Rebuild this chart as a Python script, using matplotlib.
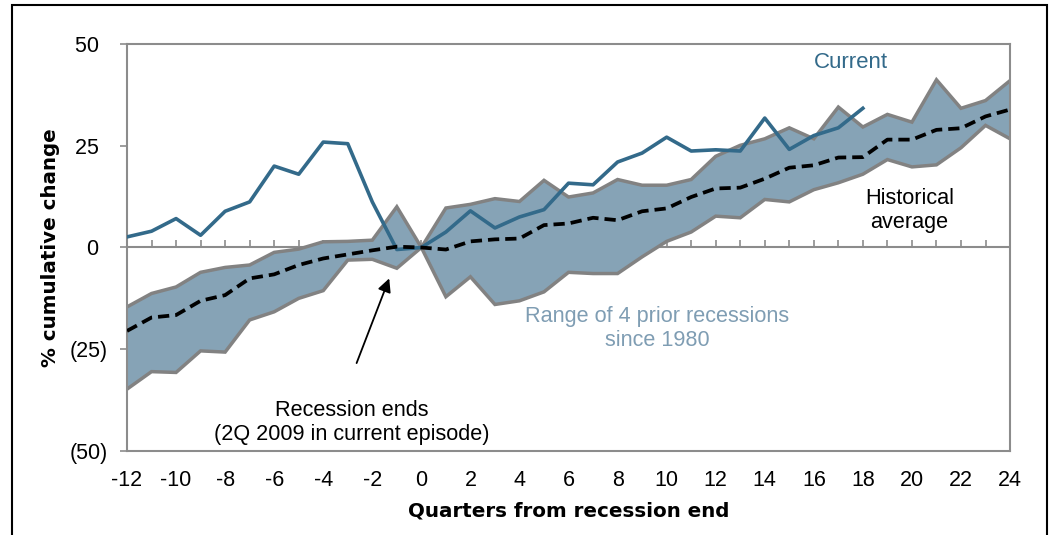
import matplotlib
matplotlib.use("Agg")
import matplotlib.pyplot as plt
from matplotlib.patches import Rectangle
import numpy as np

plt.rcParams['font.family'] = ['Liberation Sans', 'DejaVu Sans']
plt.rcParams['axes.unicode_minus'] = False

quarters = list(range(-12, 25))
current_quarters = list(range(-12, 19))

current = [2.6, 4.0, 7.1, 3.0, 8.9, 11.2, 20.0, 18.0, 25.9, 25.5, 11.2, -0.5, 0.0,
           3.8, 9.0, 4.8, 7.5, 9.3, 15.8, 15.4, 21.0, 23.2, 27.1, 23.7, 24.0,
           23.7, 31.8, 24.1, 27.5, 29.4, 34.2]

range_high = [-14.6, -11.3, -9.7, -6.1, -4.9, -4.3, -1.2, -0.4, 1.4, 1.5, 1.8, 10.0, 0.0,
              9.7, 10.6, 12.0, 11.3, 16.5, 12.4, 13.4, 16.7, 15.3, 15.3, 16.7, 22.4,
              25.1, 26.7, 29.4, 26.7, 34.5, 29.6, 32.7, 30.8, 41.2, 34.2, 36.1, 41.0]

range_low = [-34.8, -30.5, -30.7, -25.4, -25.7, -17.8, -15.8, -12.5, -10.6, -3.1, -2.9, -5.1, 0.0,
             -12.1, -7.2, -14.0, -13.1, -10.9, -6.1, -6.4, -6.4, -2.3, 1.5, 3.8, 7.7,
             7.3, 11.8, 11.2, 14.2, 15.9, 18.0, 21.6, 19.8, 20.3, 24.5, 30.0, 26.7]

hist_avg = [-20.5, -17.2, -16.6, -13.1, -11.7, -7.6, -6.6, -4.3, -2.7, -1.7, -0.7, 0.2, 0.0,
            -0.5, 1.5, 2.0, 2.2, 5.5, 5.9, 7.3, 6.7, 8.9, 9.6, 12.4, 14.5,
            14.7, 16.9, 19.6, 20.2, 22.1, 22.2, 26.5, 26.5, 28.9, 29.3, 32.2, 33.9]

y_ticks = [-50, -25, 0, 25, 50]
y_ticklabels = ["(50)", "(25)", "0\u2009\u2009", "25\u2009\u2009", "50\u2009\u2009"]
x_ticks = list(range(-12, 25, 2))

band_color = "#86a3b6"
edge_color = "#828282"
current_color = "#336a8a"
spine_color = "#8c8c8c"

fig = plt.figure(figsize=(10.54, 5.35), dpi=100)
ax = fig.add_axes([0.1205, 0.157, 0.8378, 0.7608])

ax.fill_between(quarters, range_low, range_high, color=band_color, linewidth=0, zorder=1)
ax.plot(quarters, range_high, color=edge_color, lw=2.5, zorder=2, solid_joinstyle='miter')
ax.plot(quarters, range_low, color=edge_color, lw=2.5, zorder=2, solid_joinstyle='miter')
ax.plot(quarters, hist_avg, color="black", lw=2.7, ls=(0, (3, 1.6)), zorder=4)
ax.plot(current_quarters, current, color=current_color, lw=2.6, zorder=3)

ax.set_xlim(-12, 24)
ax.set_ylim(-50, 50)

ax.axhline(0, color=spine_color, lw=1.5, zorder=0)

for s in ax.spines.values():
    s.set_color(spine_color)
    s.set_linewidth(1.5)

ax.set_yticks(y_ticks)
ax.set_yticklabels(y_ticklabels)
ax.tick_params(axis='y', direction='out', length=5, width=1.2, color=spine_color,
               labelsize=15.5, pad=9)
ax.set_xticks(x_ticks)
ax.tick_params(axis='x', length=0, labelsize=15.5, pad=14)

sec = ax.secondary_xaxis(0.5)
sec.set_xticks(list(range(-11, 25)))
sec.tick_params(axis='x', direction='out', length=5, width=1.2, color=spine_color,
                labelbottom=False, labeltop=False)
for s in sec.spines.values():
    s.set_visible(False)

ax.set_ylabel("% cumulative change", fontsize=14.3, fontweight='bold', labelpad=7,
              family=['DejaVu Sans'])
ax.set_xlabel("Quarters from recession end", fontsize=14.3, fontweight='bold', labelpad=7,
              family=['DejaVu Sans'])

ax.text(17.5, 45.4, "Current", color=current_color, fontsize=16, ha='center', va='center')
ax.text(19.9, 9.1, "Historical\naverage", color="black", fontsize=15.6, ha='center',
        va='center', linespacing=1.2)
ax.text(9.6, -20.0, "Range of 4 prior recessions\nsince 1980", color="#7f9db3",
        fontsize=15.6, ha='center', va='center', linespacing=1.2)
ax.text(-2.83, -43.0, "Recession ends\n(2Q 2009 in current episode)", color="black",
        fontsize=15.6, ha='center', va='center', linespacing=1.2)
ax.annotate("", xy=(-1.31, -7.6), xytext=(-2.64, -28.4),
            arrowprops=dict(arrowstyle="-|>", color="black", lw=1.3,
                            mutation_scale=20, shrinkA=0, shrinkB=0))

fig.patches.append(Rectangle((12 / 1054, -0.1), (1047 - 12) / 1054, 1.1 - 5 / 535,
                             transform=fig.transFigure, fill=False,
                             edgecolor="black", lw=1.5, zorder=10))

fig.savefig("out.png", dpi=100)
